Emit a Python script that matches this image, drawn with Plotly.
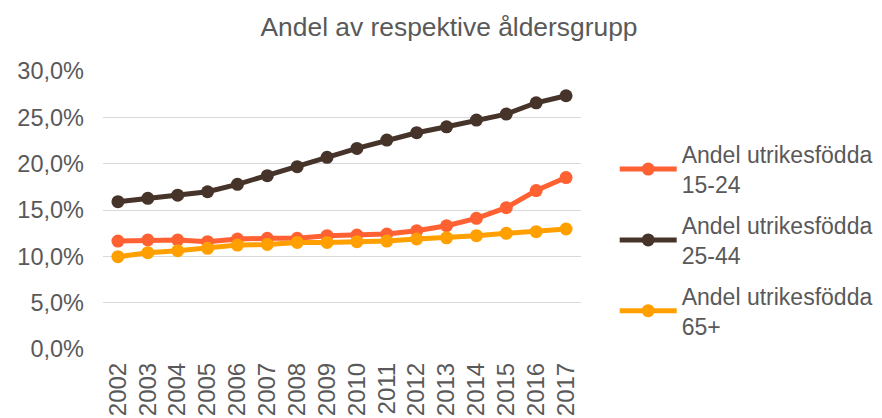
import plotly.graph_objects as go

years = [str(y) for y in range(2002, 2018)]
andel_15_24 = [11.65, 11.76, 11.76, 11.58, 11.87, 11.94, 11.94, 12.23, 12.3, 12.4, 12.76, 13.3, 14.1, 15.25, 17.1, 18.5]
andel_25_44 = [15.9, 16.26, 16.6, 16.97, 17.77, 18.7, 19.67, 20.68, 21.65, 22.55, 23.34, 23.98, 24.7, 25.35, 26.57, 27.33]
andel_65 = [9.96, 10.39, 10.6, 10.86, 11.22, 11.29, 11.5, 11.5, 11.58, 11.65, 11.87, 12.0, 12.23, 12.48, 12.66, 12.95]

series = [
    ("Andel utrikesfödda<br>15-24", andel_15_24, "#FF6133"),
    ("Andel utrikesfödda<br>25-44", andel_25_44, "#46342A"),
    ("Andel utrikesfödda<br>65+", andel_65, "#FFA000"),
]

fig = go.Figure()
for i, (name, vals, color) in enumerate(series):
    fig.add_trace(go.Scatter(
        x=years, y=vals, name=name, mode="lines+markers",
        line=dict(color=color, width=5),
        marker=dict(color=color, size=13),
        legendgroup=str(i),
    ))

font_color = "#595959"
fig.update_layout(
    width=874, height=410,
    margin=dict(l=95, r=301, t=63, b=69, autoexpand=False),
    paper_bgcolor="white", plot_bgcolor="white",
    font=dict(family="Liberation Sans, Arial, sans-serif", size=24, color=font_color),
    separators=", ",
    title=dict(text="Andel av respektive åldersgrupp", x=0.5046, xref="container",
               xanchor="center", y=0.9537, yref="container", yanchor="middle",
               font=dict(size=26.4, color=font_color)),
    showlegend=True,
    legend=dict(x=1.0705, xanchor="left", y=0.778, yanchor="top",
                font=dict(size=23, color=font_color), tracegroupgap=8,
                itemwidth=57, bgcolor="rgba(0,0,0,0)"),
    xaxis=dict(type="category", range=[-0.5, 15.5], tickangle=-90, ticklabelstandoff=8,
               showgrid=False, showline=False, ticks="", tickfont=dict(size=24, color=font_color)),
    yaxis=dict(range=[0, 30], dtick=5, tickformat=".1f", ticksuffix="%", ticklabelstandoff=18,
               showgrid=True, gridcolor="#D9D9D9", gridwidth=1, zeroline=False,
               showline=False, ticks="", tickfont=dict(size=23.5, color=font_color)),
)

fig.write_html("out.html")
